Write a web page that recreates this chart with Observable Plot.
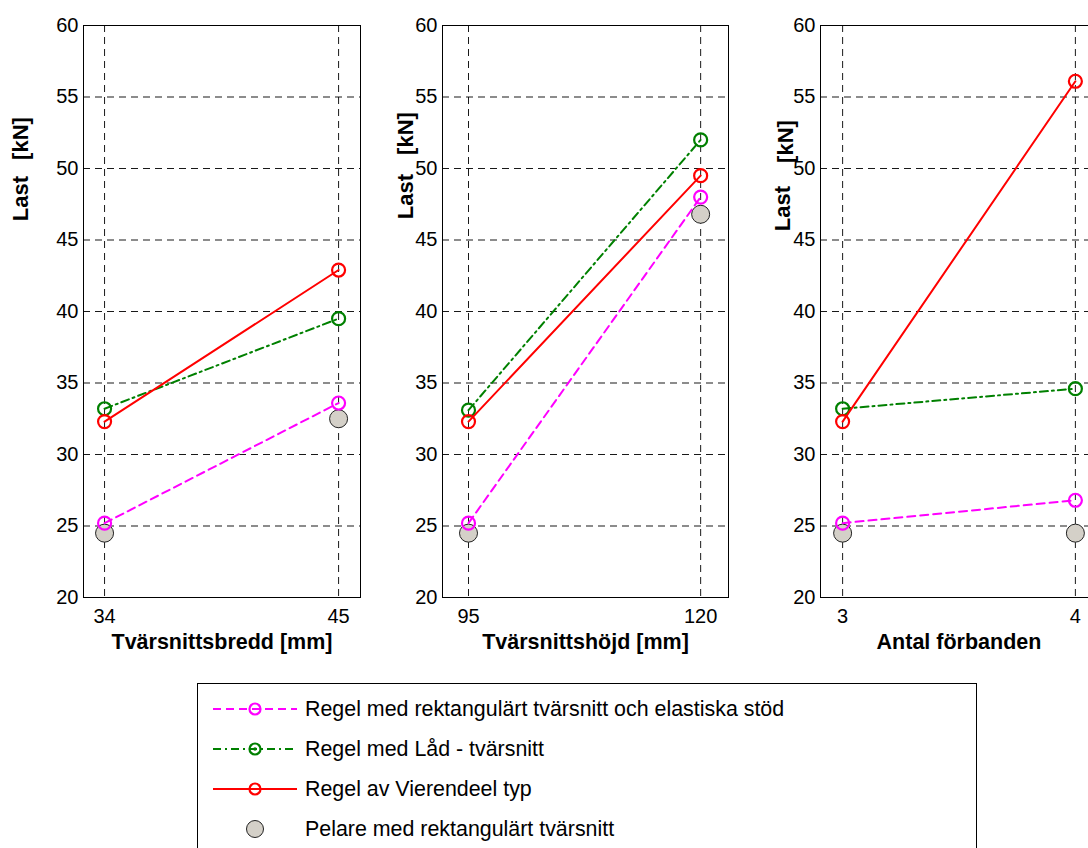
<!DOCTYPE html>
<html><head><meta charset="utf-8">
<script src="https://cdn.jsdelivr.net/npm/d3@7"></script>
<script src="https://cdn.jsdelivr.net/npm/@observablehq/plot@0.6"></script>
<style>
body{margin:0;background:#fff;}
#wrap{position:relative;width:1088px;height:848px;overflow:hidden;background:#fff;font-family:"Liberation Sans",Arial,sans-serif;}
#wrap svg{position:absolute;overflow:visible;}
</style></head>
<body><div id="wrap"></div>
<script>
// ---- data ----
const yTicks = [20,25,30,35,40,45,50,55,60];
const xLabels = ["Tvärsnittsbredd [mm]","Tvärsnittshöjd [mm]","Antal förbanden"];
const xValues = [[34,45],[95,120],[3,4]];
const seriesNames = ["Regel med rektangulärt tvärsnitt och elastiska stöd","Regel med Låd - tvärsnitt","Regel av Vierendeel typ","Pelare med rektangulärt tvärsnitt"];
const seriesColors = ["#ff00ff","#008000","#ff0000","#d4d0c8"];
// values per panel: [first x value, second x value]
const regelRekt   = [[25.2,33.6],[25.2,48.0],[25.2,26.8]];
const regelLad    = [[33.2,39.5],[33.1,52.0],[33.2,34.6]];
const regelVier   = [[32.3,42.9],[32.3,49.5],[32.3,56.1]];
const pelare      = [[24.5,32.5],[24.5,46.8],[24.5,24.5]];

// ---- layout ----
const FONT = "'Liberation Sans', Arial, sans-serif";
const layout = [
  {left:0,   ml:83, fw:277, width:370, domain:[33.01,46.03], lastY:198, knY:138, lx:20,  kx:20},
  {left:380, ml:62, fw:286, width:358, domain:[92.2,123.0],  lastY:196, knY:133, lx:405, kx:405},
  {left:760, ml:60, fw:277, width:347, domain:[2.905,4.095], lastY:208, knY:141, lx:782, kx:785}
];
const dashes = ["8,5", "8,4,2,4", null];
const wrap = document.getElementById("wrap");

layout.forEach((L, i) => {
  const xs = xValues[i];
  const mk = arr => xs.map((x, j) => ({x, y: arr[i][j]}));
  const series = [regelRekt, regelLad, regelVier].map(mk);
  const gray = mk(pelare);
  const ylab = (t, cy, cx) => Plot.text([t], {frameAnchor:"top-left", dx:cx - L.left - L.ml, dy:cy - 25, rotate:-90,
    textAnchor:"middle", lineAnchor:"middle", fontWeight:"bold", fontSize:22});
  const marks = [
    Plot.gridX(xs, {stroke:"#000", strokeOpacity:0.9, strokeDasharray:"7,5", strokeWidth:1}),
    Plot.gridY(yTicks, {stroke:"#000", strokeOpacity:0.9, strokeDasharray:"7,5", strokeWidth:1}),
    Plot.frame({stroke:"#000", strokeWidth:1}),
    Plot.axisX(xs, {tickSize:0, tickPadding:11, label:null, tickFormat:d=>String(d), fontSize:20}),
    Plot.axisY(yTicks, {tickSize:0, tickPadding:5, label:null, fontSize:20}),
    Plot.text([xLabels[i]], {frameAnchor:"bottom", dy:45, fontWeight:"bold", fontSize:21.5, lineAnchor:"middle"}),
    ylab("Last", L.lastY, L.lx),
    ylab("[kN]", L.knY, L.kx),
    Plot.dot(gray, {x:"x", y:"y", r:9, fill:seriesColors[3], stroke:"#222", strokeWidth:1})
  ];
  series.forEach((s, k) => {
    marks.push(Plot.line(s, {x:"x", y:"y", stroke:seriesColors[k], strokeWidth:2, strokeDasharray:dashes[k]}));
    marks.push(Plot.dot(s, {x:"x", y:"y", r:6.5, stroke:seriesColors[k], strokeWidth:2.2, fill:"none"}));
  });
  const svg = Plot.plot({
    width:L.width, height:660,
    marginLeft:L.ml, marginRight:L.width - L.ml - L.fw, marginTop:25, marginBottom:63,
    x:{domain:L.domain},
    y:{domain:[20,60]},
    style:{fontFamily:FONT, fontSize:"20px", color:"#000", background:"transparent"},
    marks
  });
  svg.style.left = L.left + "px";
  svg.style.top = "0px";
  wrap.appendChild(svg);
});

// ---- legend ----
const lg = d3.select(wrap).append("svg")
  .style("left","197px").style("top","683px")
  .attr("width",780).attr("height",170);
lg.append("rect").attr("x",0.5).attr("y",0.5).attr("width",779).attr("height",200)
  .attr("fill","#fff").attr("stroke","#000").attr("stroke-width",1);
seriesNames.forEach((name, k) => {
  const cy = 26 + k*40;
  const g = lg.append("g");
  if (k < 3) {
    g.append("line").attr("x1",16).attr("x2",100).attr("y1",cy).attr("y2",cy)
      .attr("stroke",seriesColors[k]).attr("stroke-width",2)
      .attr("stroke-dasharray",dashes[k]);
    g.append("circle").attr("cx",58).attr("cy",cy).attr("r",5.5)
      .attr("fill","none").attr("stroke",seriesColors[k]).attr("stroke-width",2.2);
    if (k === 1) g.append("circle").attr("cx",58).attr("cy",cy).attr("r",1.8).attr("fill",seriesColors[k]);
  } else {
    g.append("circle").attr("cx",58).attr("cy",cy).attr("r",8.5)
      .attr("fill",seriesColors[k]).attr("stroke","#222").attr("stroke-width",1);
  }
  g.append("text").attr("x",108).attr("y",cy).attr("dy","0.35em")
    .attr("font-family",FONT).attr("font-size",21.4)
    .text(name);
});
</script></body></html>
